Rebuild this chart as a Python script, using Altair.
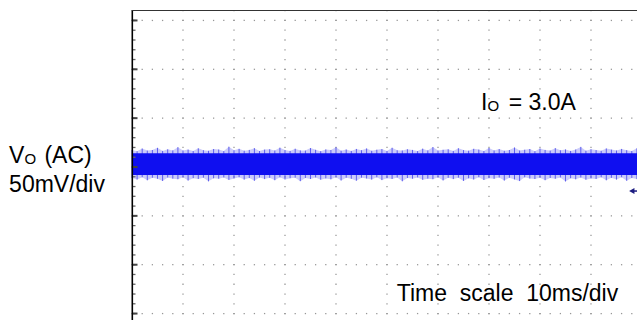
import altair as alt
import pandas as pd

FONT = "Liberation Sans"

# ---- data ----
# time axis: 10 ms/div, vertical: 50 mV/div (AC coupled output ripple)
time_ms = list(range(100))
upper_spike_mv = [17.5,16.2,18.9,16.8,17.4,19.6,16.5,18.1,17.0,20.3,
                  16.9,17.8,16.4,19.1,17.2,16.6,18.4,17.9,16.3,20.8,
                  17.1,18.6,16.7,17.5,19.3,16.4,17.8,18.2,16.9,19.8,
                  17.3,16.5,18.7,17.0,16.8,19.4,17.6,16.2,18.0,17.4,
                  20.1,16.7,17.9,16.5,18.5,17.2,19.0,16.6,17.7,18.3,
                  16.4,19.7,17.1,16.9,18.2,17.5,16.3,18.8,17.0,20.4,
                  16.8,17.6,18.1,16.5,19.2,17.3,16.7,18.6,17.8,16.4,
                  19.5,17.0,18.3,16.6,17.4,20.0,16.9,17.7,18.4,16.2,
                  18.9,17.5,16.8,19.3,17.1,18.0,16.5,17.9,20.6,16.7,
                  18.2,17.3,16.6,19.0,17.8,16.9,18.5,17.2,16.4,19.1]
lower_spike_mv = [-11.2,-12.8,-10.5,-13.6,-11.0,-12.1,-14.3,-10.8,-11.9,-12.5,
                  -10.6,-13.9,-11.4,-12.2,-10.9,-14.7,-11.6,-12.0,-10.7,-13.2,
                  -11.8,-10.5,-12.9,-11.3,-14.1,-10.8,-12.4,-11.1,-13.5,-10.6,
                  -12.7,-11.5,-10.9,-14.5,-11.2,-12.3,-10.7,-13.0,-11.7,-12.6,
                  -10.5,-13.8,-11.0,-12.1,-14.0,-10.9,-11.8,-12.9,-10.6,-13.4,
                  -11.5,-12.2,-10.8,-14.6,-11.3,-12.0,-10.7,-13.1,-11.9,-12.5,
                  -10.6,-13.7,-11.1,-12.4,-10.9,-14.2,-11.6,-12.8,-10.5,-13.3,
                  -11.4,-12.1,-10.8,-13.9,-11.0,-12.7,-14.4,-10.6,-11.8,-12.3,
                  -10.9,-13.5,-11.2,-12.0,-10.7,-14.8,-11.5,-12.6,-10.8,-13.0,
                  -11.7,-12.2,-10.6,-13.6,-11.1,-12.9,-10.5,-14.1,-11.3,-12.4]
core_hi_mv = [14.0, 14.0]
core_lo_mv = [-8.2, -8.2]
core_t = [0, 99.02]

div_t = [10, 20, 30, 40, 50, 60, 70, 80, 90]
div_mv = [-150, -100, -50, 0, 50, 100, 150]
minor_t = [i * 2 for i in range(50)]
minor_mv = [-150 + 10 * i for i in range(32)]

marker_t = [98.0]
marker_mv = [-24.6]

# ---- scales ----
W, H = 505, 310
xs = alt.Scale(domain=[0, 99.02], nice=False, zero=False)
ys = alt.Scale(domain=[-156.6, 160.7], nice=False, zero=False)

def X(f):
    return alt.X(f, type="quantitative", scale=xs, axis=None)

def Y(f):
    return alt.Y(f, type="quantitative", scale=ys, axis=None)

# grid dots
dots = [{"t": t, "mv": mv} for mv in div_mv for t in minor_t] + \
       [{"t": t, "mv": mv} for t in div_t for mv in minor_mv]
grid = alt.Chart(pd.DataFrame(dots)).mark_square(
    size=1.6, color="#8c8c8c", opacity=0.9
).encode(x=X("t"), y=Y("mv"))

# left-border ticks
ticks_df = pd.DataFrame({"mv": [m for m in minor_mv if m <= 150]})
minor_ticks = alt.Chart(ticks_df).mark_rule(color="#666666", strokeWidth=1.3).encode(
    y=Y("mv"), x=alt.value(0), x2=alt.value(3.5))
major_ticks = alt.Chart(pd.DataFrame({"mv": div_mv})).mark_rule(
    color="#444444", strokeWidth=2).encode(y=Y("mv"), x=alt.value(0), x2=alt.value(5.5))

# waveform band
wave_df = pd.DataFrame({"t": time_ms, "hi": upper_spike_mv, "lo": lower_spike_mv})
fringe = alt.Chart(wave_df).mark_area(color="#6a6af0", opacity=0.35).encode(
    x=X("t"), y=Y("hi"), y2="lo")
spikes = alt.Chart(wave_df).mark_rule(color="#3a3ae8", strokeWidth=1, opacity=0.75).encode(
    x=X("t"), y=Y("hi"), y2="lo")
core_df = pd.DataFrame({"t": core_t, "hi": core_hi_mv, "lo": core_lo_mv})
core = alt.Chart(core_df).mark_area(color="#0f0ff0").encode(
    x=X("t"), y=Y("hi"), y2="lo")

# ground marker
mk_df = pd.DataFrame({"t": marker_t, "mv": marker_mv, "t2": [99.02]})
mk_line = alt.Chart(mk_df).mark_rule(color="#1c1c80", strokeWidth=1.5).encode(
    x=X("t"), x2="t2", y=Y("mv"))
mk_tri = alt.Chart(mk_df).mark_point(shape="triangle-left", filled=True, size=38,
                                      color="#1c1c80", opacity=1).encode(x=X("t"), y=Y("mv"))

# borders
one = pd.DataFrame({"a": [0]})
left_border = alt.Chart(one).mark_rule(color="black", strokeWidth=1.6).encode(
    x=alt.value(0.3), y=alt.value(0), y2=alt.value(H))
top_border = alt.Chart(one).mark_rule(color="#333333", strokeWidth=1).encode(
    x=alt.value(0), x2=alt.value(W), y=alt.value(0.5))

# texts
def text_data(s, t, mv, size, dx=0, dy=0):
    df = pd.DataFrame({"t": [t], "mv": [mv]})
    return alt.Chart(df).mark_text(font=FONT, fontSize=size, align="left",
                                   baseline="alphabetic", dx=dx, dy=dy,
                                   color="black").encode(
        x=X("t"), y=Y("mv"), text=alt.value(s))

def text_px(s, px, py, size, dx=0, dy=0):
    return alt.Chart(one).mark_text(font=FONT, fontSize=size, align="left",
                                    baseline="alphabetic", dx=dx, dy=dy,
                                    color="black").encode(
        x=alt.value(px), y=alt.value(py), text=alt.value(s))

io_t, io_mv = 68.45, 58.4
texts = [
    text_data("I", io_t, io_mv, 23),
    text_data("O", io_t, io_mv, 15, dx=6.4, dy=1.5),
    text_data("=\u00a03.0A", io_t, io_mv, 23, dx=27.6),
    text_data("Time\u00a0\u00a0scale\u00a0\u00a010ms/div", 51.9, -136.9, 23),
    text_px("V", -122.9, 153.3, 23),
    text_px("O", -122.9, 153.3, 15, dx=15.3, dy=0.5),
    text_px("(AC)", -122.9, 153.3, 23, dx=35.3),
    text_px("50mV/div", -122.9, 182.3, 23),
]

chart = alt.layer(
    grid, fringe, spikes, core, mk_line, mk_tri, minor_ticks, major_ticks,
    left_border, top_border, *texts
).properties(
    width=W, height=H,
    padding={"left": 132, "top": 10, "right": 0, "bottom": 0},
    autosize=alt.AutoSizeParams(type="none"),
    background="white",
).configure_view(stroke=None)

chart.save("out.html", embed_options={"renderer": "svg", "actions": False})
